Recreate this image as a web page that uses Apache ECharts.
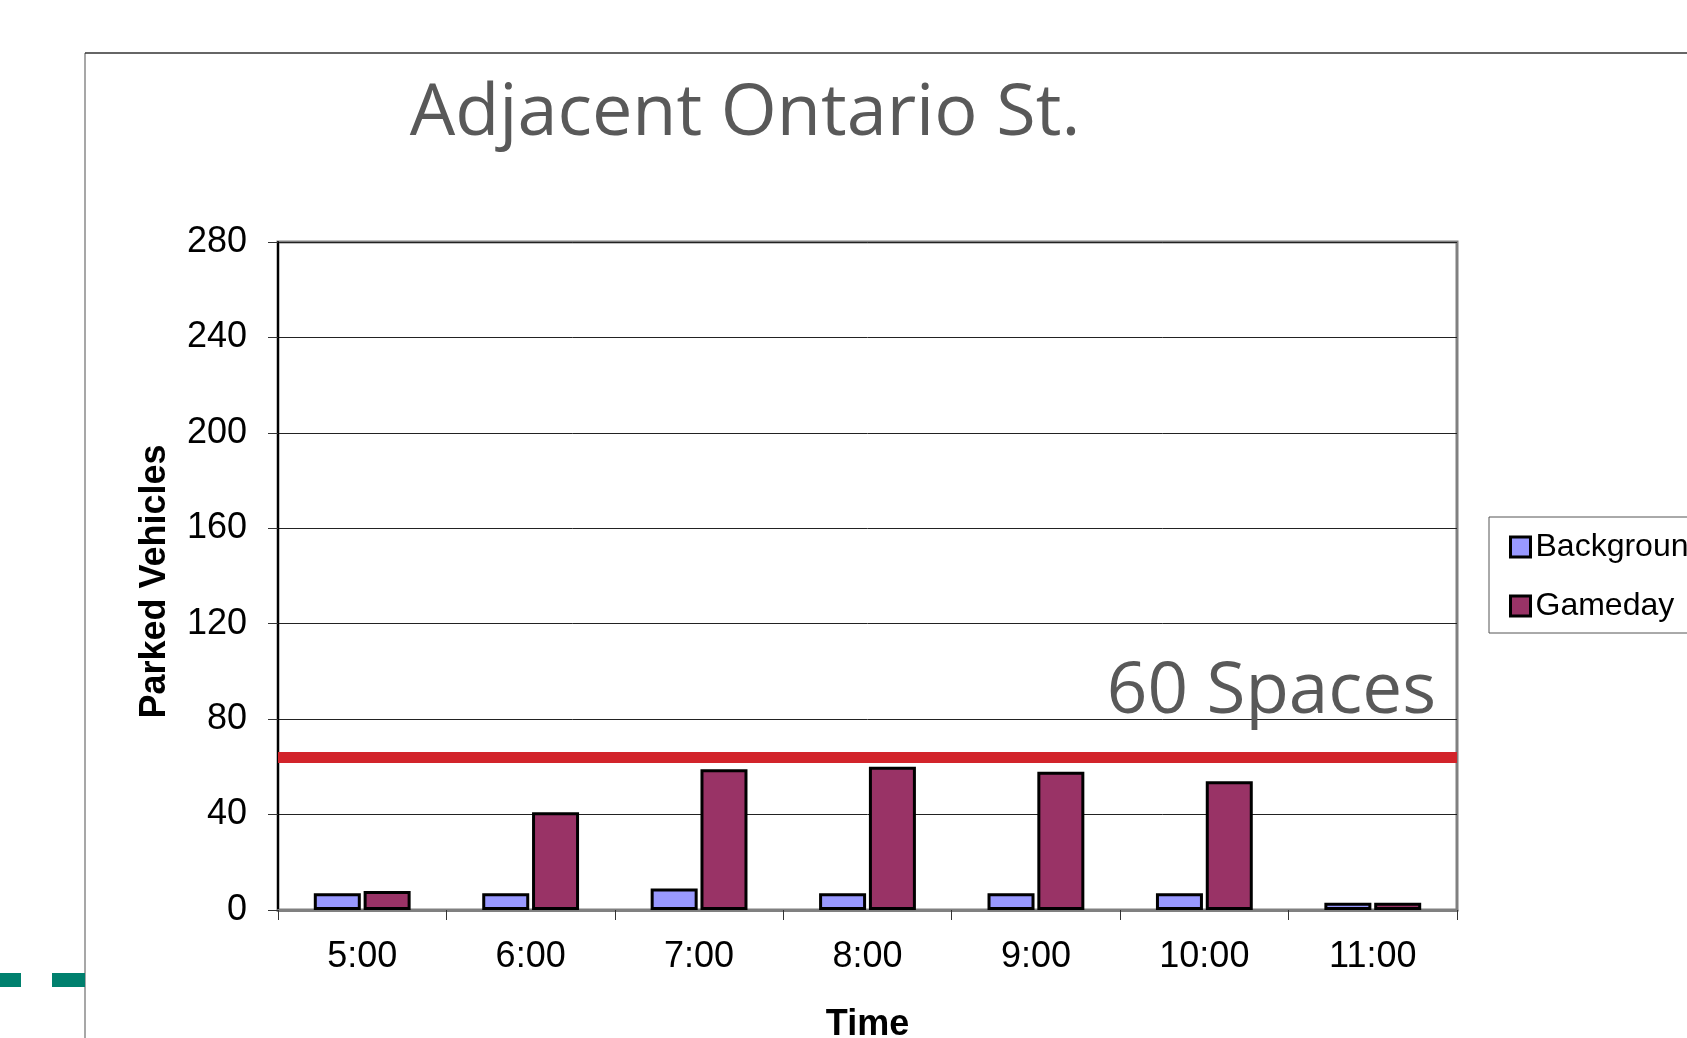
<!DOCTYPE html>
<html>
<head>
<meta charset="utf-8">
<script src="https://cdn.jsdelivr.net/npm/echarts@6/dist/echarts.min.js"></script>
<style>
html,body{margin:0;padding:0;background:#fff;}
#chart{width:1687px;height:1038px;}
</style>
</head>
<body>
<div id="chart"></div>
<script>
var categories = ['5:00', '6:00', '7:00', '8:00', '9:00', '10:00', '11:00'];
var backgroundValues = [7, 7, 9, 7, 7, 7, 3];
var gamedayValues = [8, 41, 59, 60, 58, 54, 3];
var capacityLine = 64;
var capacityLabel = '60 Spaces';
var yMin = 0, yMax = 280, yStep = 40;

var chart = echarts.init(document.getElementById('chart'), null, {renderer: 'canvas'});
var labelFont = 'Liberation Sans, Arial, sans-serif';
var titleFont = 'Open Sans, sans-serif';

chart.setOption({
  backgroundColor: '#ffffff',
  animation: false,
  title: {
    text: 'Adjacent Ontario St.',
    left: 740,
    textAlign: 'center',
    top: 73,
    textStyle: {fontFamily: titleFont, fontSize: 72, fontWeight: 'normal', color: '#595959'}
  },
  legend: {
    orient: 'vertical',
    left: 1489,
    top: 517,
    padding: [14, 20, 11, 20],
    itemGap: 27,
    itemWidth: 20,
    itemHeight: 20,
    icon: 'rect',
    borderColor: '#555555',
    borderWidth: 1,
    itemStyle: {borderColor: '#000', borderWidth: 3},
    textStyle: {fontFamily: labelFont, fontSize: 32, color: '#000'},
    data: ['Background', 'Gameday']
  },
  grid: {
    left: 278, right: 230, top: 242, bottom: 128,
    containLabel: false,
    outerBoundsMode: 'none',
    show: true, borderColor: '#808080', borderWidth: 3, backgroundColor: 'transparent'
  },
  xAxis: {
    type: 'category',
    data: categories,
    boundaryGap: true,
    name: 'Time',
    nameLocation: 'middle',
    nameGap: 97,
    nameTextStyle: {fontFamily: labelFont, fontSize: 36, fontWeight: 'bold', color: '#000'},
    axisLine: {show: true, lineStyle: {color: '#808080', width: 3}},
    axisTick: {show: true, length: 10, alignWithLabel: false, lineStyle: {color: '#333', width: 1}},
    axisLabel: {interval: 0, fontFamily: labelFont, fontSize: 36, color: '#000', margin: 29},
    splitLine: {show: false}
  },
  yAxis: {
    type: 'value',
    min: yMin, max: yMax, interval: yStep,
    name: 'Parked Vehicles',
    nameLocation: 'middle',
    nameGap: 105,
    nameTextStyle: {fontFamily: labelFont, fontSize: 36, fontWeight: 'bold', color: '#000', padding: [0, 11, 0, 0]},
    axisLine: {show: true, lineStyle: {color: '#000', width: 2}},
    axisTick: {show: true, length: 10, lineStyle: {color: '#333', width: 1}},
    axisLabel: {fontFamily: labelFont, fontSize: 36, color: '#000', margin: 31},
    splitLine: {show: true, lineStyle: {color: '#222', width: 1}}
  },
  series: [
    {
      name: 'Background',
      type: 'bar',
      data: backgroundValues,
      barWidth: 47,
      barGap: '6%',
      itemStyle: {color: '#9999FF', borderColor: '#000', borderWidth: 3},
      z: 3
    },
    {
      name: 'Gameday',
      type: 'bar',
      data: gamedayValues,
      barWidth: 47,
      barGap: '6%',
      itemStyle: {color: '#993366', borderColor: '#000', borderWidth: 3},
      z: 3,
      markLine: {
        silent: true,
        symbol: 'none',
        animation: false,
        lineStyle: {color: '#D2232A', width: 11, type: 'solid'},
        label: {
          show: true,
          position: 'insideEndTop',
          formatter: capacityLabel,
          distance: [21, 29],
          fontFamily: titleFont,
          fontSize: 71,
          color: '#595959'
        },
        data: [{yAxis: capacityLine}]
      }
    }
  ],
  graphic: [
    {type: 'line', shape: {x1: 85, y1: 53, x2: 85, y2: 1038}, style: {stroke: '#8a8a8a', lineWidth: 1.5}, silent: true},
    {type: 'line', shape: {x1: 85, y1: 53, x2: 1687, y2: 53}, style: {stroke: '#333333', lineWidth: 1.5}, silent: true},
    {type: 'rect', shape: {x: 0, y: 973, width: 21, height: 14}, style: {fill: '#00806E'}, silent: true},
    {type: 'rect', shape: {x: 52, y: 973, width: 33, height: 14}, style: {fill: '#00806E'}, silent: true}
  ]
});
</script>
</body>
</html>
